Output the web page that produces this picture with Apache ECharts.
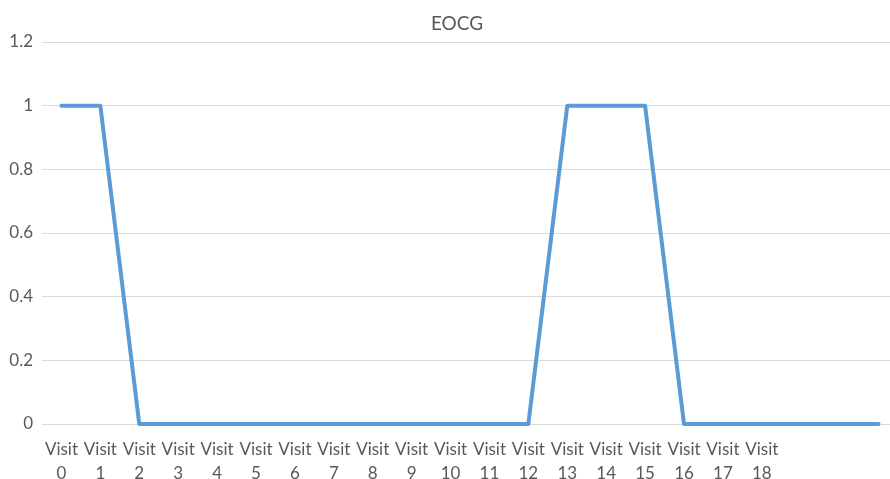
<!DOCTYPE html>
<html>
<head>
<meta charset="utf-8">
<script src="https://cdn.jsdelivr.net/npm/echarts@6/dist/echarts.min.js"></script>
<style>html,body{margin:0;padding:0;background:#fff;}#c{width:890px;height:479px;}</style>
</head>
<body>
<div id="c"></div>
<script>
const categories = ['Visit\n0','Visit\n1','Visit\n2','Visit\n3','Visit\n4','Visit\n5','Visit\n6','Visit\n7','Visit\n8','Visit\n9','Visit\n10','Visit\n11','Visit\n12','Visit\n13','Visit\n14','Visit\n15','Visit\n16','Visit\n17','Visit\n18','','',''];
const eocgValues = [1,1,0,0,0,0,0,0,0,0,0,0,0,1,1,1,0,0,0,0,0,0];
const titleText = 'EOCG';

const chart = echarts.init(document.getElementById('c'));
chart.setOption({
  animation: false,
  title: {
    text: titleText,
    left: 452, top: 9, textAlign: 'center',
    textStyle: { fontFamily: 'Lato', fontSize: 19, fontWeight: 'normal', color: '#595959' }
  },
  grid: { left: 42, width: 856, top: 42, height: 382, containLabel: false, outerBoundsMode: 'none' },
  xAxis: {
    type: 'category',
    data: categories,
    boundaryGap: true,
    axisLine: { show: true, lineStyle: { color: '#d9d9d9', width: 1 } },
    axisTick: { show: false },
    axisLabel: { interval: 0, color: '#595959', fontFamily: 'Lato', fontSize: 17, lineHeight: 24, margin: 14 }
  },
  yAxis: {
    type: 'value', min: 0, max: 1.2, interval: 0.2,
    axisLine: { show: false }, axisTick: { show: false },
    splitLine: { lineStyle: { color: '#d9d9d9', width: 1 } },
    axisLabel: { color: '#595959', fontFamily: 'Lato', fontSize: 17, margin: 9,
      formatter: v => String(Math.round(v*10)/10) }
  },
  series: [{
    type: 'line', data: eocgValues, symbol: 'none',
    lineStyle: { color: '#5B9BD5', width: 4, cap: 'round', join: 'round' }
  }]
});
</script>
</body>
</html>
